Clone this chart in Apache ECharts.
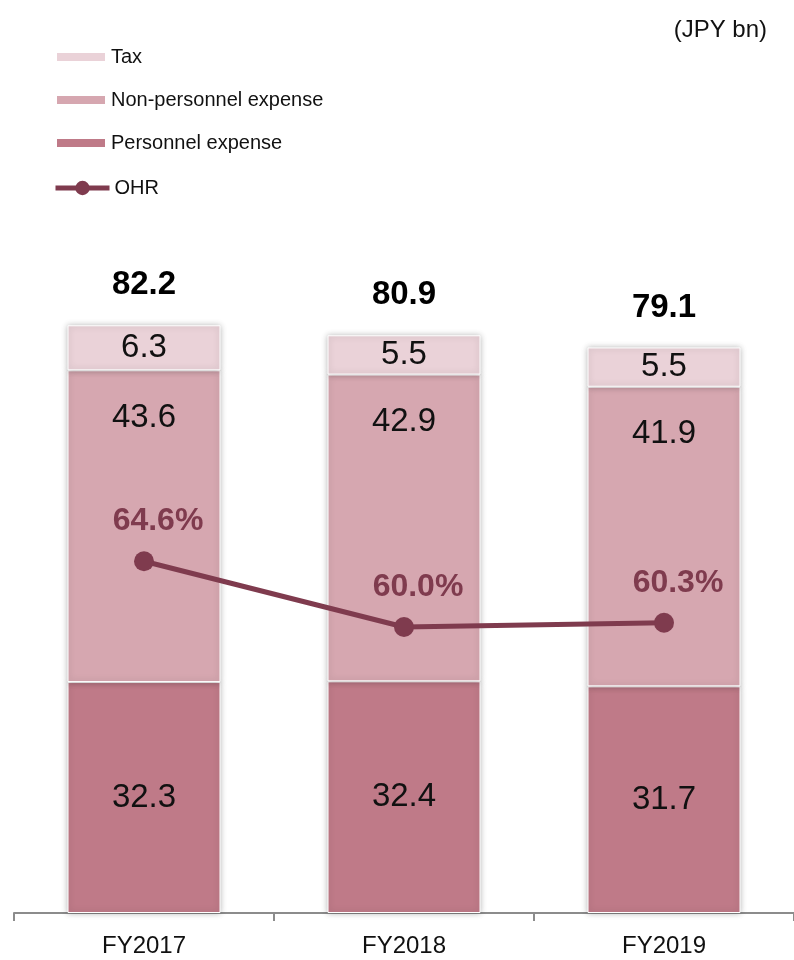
<!DOCTYPE html>
<html>
<head>
<meta charset="utf-8">
<script src="https://cdn.jsdelivr.net/npm/echarts@6/dist/echarts.min.js"></script>
<style>
  html, body { margin: 0; padding: 0; background: #ffffff; }
  #chart { width: 794px; height: 960px; }
</style>
</head>
<body>
<div id="chart"></div>
<script>
// Fiscal years and expense breakdown (JPY bn)
const categories = ['FY2017', 'FY2018', 'FY2019'];
const personnelExpense = [32.3, 32.4, 31.7];
const nonPersonnelExpense = [43.6, 42.9, 41.9];
const tax = [6.3, 5.5, 5.5];
const totalExpense = [82.2, 80.9, 79.1];
// Overhead ratio (%)
const ohr = [64.6, 60.0, 60.3];

const FONT = '"Liberation Sans", Arial, sans-serif';

const COLORS = {
  personnel: '#BF7A88',
  nonPersonnel: '#D6A7B0',
  tax: '#EAD2D8',
  ohr: '#7F3B4E'
};

const barItemStyle = (color) => ({
  color: color,
  borderColor: '#ffffff',
  borderWidth: 1,
  shadowBlur: 6,
  shadowColor: 'rgba(0,0,0,0.28)'
});

const segLabel = {
  show: true,
  fontFamily: FONT,
  fontSize: 33,
  color: '#111111'
};

const chart = echarts.init(document.getElementById('chart'), null, { renderer: 'canvas' });

chart.setOption({
  animation: false,
  backgroundColor: '#ffffff',
  title: {
    text: '(JPY bn)',
    right: 22,
    top: 13,
    textStyle: { fontFamily: FONT, fontSize: 24, fontWeight: 'normal', color: '#111111' }
  },
  legend: [
    {
      data: ['Tax', 'Non-personnel expense', 'Personnel expense'],
      orient: 'vertical',
      left: 50,
      top: 41,
      itemWidth: 50,
      itemHeight: 10,
      itemGap: 21,
      icon: 'rect',
      textStyle: { fontFamily: FONT, fontSize: 20, lineHeight: 22, color: '#111111' }
    },
    {
      data: ['OHR'],
      orient: 'vertical',
      left: 48,
      top: 172,
      itemWidth: 54,
      itemHeight: 18,
      lineStyle: { width: 5, color: COLORS.ohr },
      textStyle: { fontFamily: FONT, fontSize: 20, lineHeight: 22, color: '#111111' }
    }
  ],
  grid: {
    left: 14,
    right: 0,
    top: 198,
    bottom: 47,
    containLabel: false,
    outerBoundsMode: 'none'
  },
  xAxis: {
    type: 'category',
    data: categories,
    boundaryGap: true,
    axisLine: { show: true, lineStyle: { color: '#8c8c8c', width: 2 } },
    axisTick: { show: true, length: 8, lineStyle: { color: '#8c8c8c', width: 2 } },
    axisLabel: { fontFamily: FONT, fontSize: 24, color: '#111111', margin: 21 },
    splitLine: { show: false }
  },
  yAxis: [
    { type: 'value', min: 0, max: 100, show: false },
    { type: 'value', min: 40, max: 90, show: false }
  ],
  series: [
    {
      name: 'Personnel expense',
      type: 'bar',
      stack: 'cost',
      barWidth: 153,
      data: personnelExpense,
      itemStyle: barItemStyle(COLORS.personnel),
      label: Object.assign({ position: 'inside' }, segLabel)
    },
    {
      name: 'Non-personnel expense',
      type: 'bar',
      stack: 'cost',
      barWidth: 153,
      data: nonPersonnelExpense,
      itemStyle: barItemStyle(COLORS.nonPersonnel),
      label: Object.assign({ position: 'insideTop', distance: 31 }, segLabel)
    },
    {
      name: 'Tax',
      type: 'bar',
      stack: 'cost',
      barWidth: 153,
      data: tax,
      itemStyle: barItemStyle(COLORS.tax),
      label: Object.assign({ position: 'inside' }, segLabel)
    },
    {
      // stack totals printed above each column
      name: 'Total',
      type: 'scatter',
      data: totalExpense,
      symbolSize: 1,
      itemStyle: { color: 'rgba(0,0,0,0)', opacity: 1 },
      silent: true,
      z: 5,
      label: {
        show: true,
        position: 'top',
        distance: 23,
        fontFamily: FONT,
        fontSize: 33,
        fontWeight: 'bold',
        color: '#000000',
        formatter: (p) => p.value.toFixed(1)
      }
    },
    {
      name: 'OHR',
      type: 'line',
      yAxisIndex: 1,
      data: ohr,
      symbol: 'circle',
      symbolSize: 20,
      z: 6,
      lineStyle: { color: COLORS.ohr, width: 5 },
      itemStyle: { color: COLORS.ohr },
      label: {
        show: true,
        position: 'top',
        distance: 14,
        offset: [14, 0],
        fontFamily: FONT,
        fontSize: 32,
        fontWeight: 'bold',
        color: COLORS.ohr,
        formatter: (p) => p.value.toFixed(1) + '%'
      }
    }
  ]
});
</script>
</body>
</html>
